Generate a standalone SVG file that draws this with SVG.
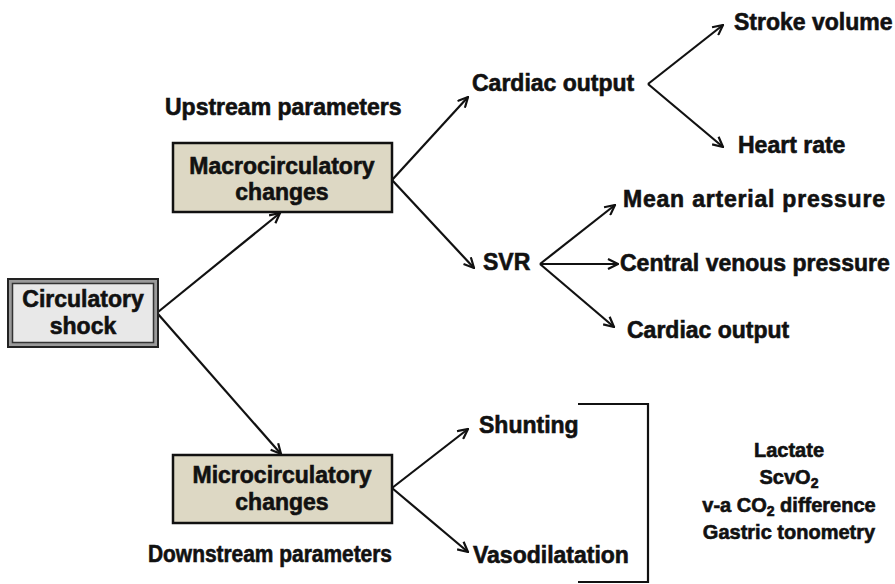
<svg xmlns="http://www.w3.org/2000/svg" width="895" height="584" viewBox="0 0 895 584">
<style>
text{font-family:"Liberation Sans",Arial,sans-serif;font-weight:bold;fill:#111;stroke:#111;stroke-width:0.6;}
.t{font-size:23px;}
.r{font-size:20px;text-anchor:middle;}
.c{text-anchor:middle;}
.ln{stroke:#111;stroke-width:2.2;fill:none;}
.box{fill:#ddd8c4;stroke:#111;stroke-width:2.5;}
</style>
<defs>
<marker id="ah" viewBox="0 0 12 12" refX="11" refY="6" markerWidth="12" markerHeight="12" markerUnits="userSpaceOnUse" orient="auto">
<path d="M1,1 L11,6 L1,11" fill="none" stroke="#111" stroke-width="2.2"/>
</marker>
</defs>
<rect width="895" height="584" fill="#fff"/>
<g id="connectors">
<line class="ln" x1="158" y1="312" x2="280" y2="213" marker-end="url(#ah)"/>
<line class="ln" x1="158" y1="314" x2="281" y2="454" marker-end="url(#ah)"/>
<line class="ln" x1="392" y1="180" x2="468" y2="97" marker-end="url(#ah)"/>
<line class="ln" x1="392" y1="180" x2="474" y2="268" marker-end="url(#ah)"/>
<line class="ln" x1="648" y1="84" x2="723" y2="25" marker-end="url(#ah)"/>
<line class="ln" x1="648" y1="84" x2="723" y2="147" marker-end="url(#ah)"/>
<line class="ln" x1="540" y1="264" x2="615" y2="205" marker-end="url(#ah)"/>
<line class="ln" x1="540" y1="264" x2="618" y2="264" marker-end="url(#ah)"/>
<line class="ln" x1="540" y1="264" x2="614" y2="327" marker-end="url(#ah)"/>
<line class="ln" x1="392" y1="488" x2="468" y2="429" marker-end="url(#ah)"/>
<line class="ln" x1="392" y1="488" x2="468" y2="552" marker-end="url(#ah)"/>
<polyline class="ln" points="578,404 648,404 648,582 578,582"/>
</g>
<g id="circulatory-shock">
<rect x="8" y="279" width="150" height="68" fill="#9a9a9a" stroke="#222" stroke-width="2"/>
<rect x="12.5" y="283.5" width="141" height="59" fill="#e8e8e8" stroke="#333" stroke-width="1.5"/>
<text class="t c" x="83" y="307">Circulatory</text>
<text class="t c" x="83" y="334">shock</text>
</g>
<g id="upstream-label"><text class="t" x="165" y="115">Upstream parameters</text></g>
<g id="macro">
<rect class="box" x="173" y="143" width="219" height="69"/>
<text class="t c" x="282" y="174">Macrocirculatory</text>
<text class="t c" x="282" y="200">changes</text>
</g>
<g id="micro">
<rect class="box" x="173" y="455" width="219" height="68"/>
<text class="t c" x="282" y="483">Microcirculatory</text>
<text class="t c" x="282" y="510">changes</text>
</g>
<g id="downstream-label"><text class="t" x="148" y="562" textLength="244" lengthAdjust="spacingAndGlyphs">Downstream parameters</text></g>
<g id="cardiac-output"><text class="t" x="472" y="91">Cardiac output</text></g>
<g id="stroke-volume"><text class="t" x="734" y="30">Stroke volume</text></g>
<g id="heart-rate"><text class="t" x="738" y="153">Heart rate</text></g>
<g id="svr"><text class="t" x="483" y="270">SVR</text></g>
<g id="map"><text class="t" x="623" y="207" textLength="262" lengthAdjust="spacing">Mean arterial pressure</text></g>
<g id="cvp"><text class="t" x="620" y="271">Central venous pressure</text></g>
<g id="cardiac-output-2"><text class="t" x="627" y="338">Cardiac output</text></g>
<g id="shunting"><text class="t" x="479" y="433">Shunting</text></g>
<g id="vasodilatation"><text class="t" x="473" y="563">Vasodilatation</text></g>
<g id="markers">
<text class="r" x="789" y="457">Lactate</text>
<text class="r" x="789" y="484">ScvO<tspan font-size="14" dy="4">2</tspan></text>
<text class="r" x="789" y="512">v-a CO<tspan font-size="14" dy="4">2</tspan><tspan dy="-4"> difference</tspan></text>
<text class="r" x="789" y="539">Gastric tonometry</text>
</g>
</svg>
